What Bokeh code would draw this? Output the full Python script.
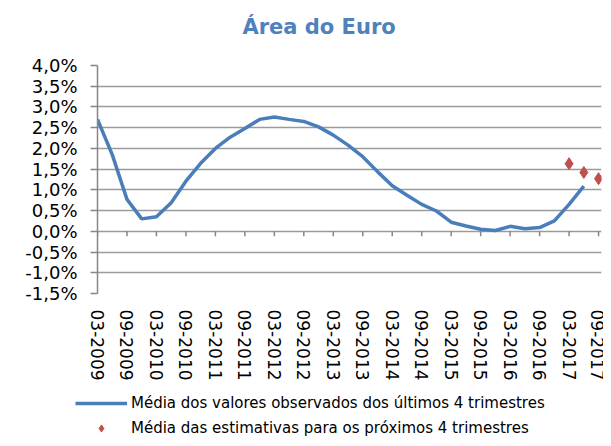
from bokeh.plotting import figure
from bokeh.layouts import column
from bokeh.models import (Range1d, FixedTicker, LinearAxis, Legend, LegendItem, Title)
from bokeh.embed import file_html
from bokeh.resources import INLINE

# ---- data ----
quarters = [f"{m}-{y}" for y in range(2009, 2018) for m in ("03", "06", "09", "12")][:35]
observed = [2.70, 1.85, 0.77, 0.30, 0.35, 0.69, 1.21, 1.64, 2.00, 2.27,
            2.48, 2.70, 2.76, 2.70, 2.65, 2.52, 2.32, 2.08, 1.80, 1.44,
            1.10, 0.87, 0.65, 0.49, 0.22, 0.13, 0.05, 0.02, 0.12, 0.06,
            0.09, 0.25, 0.65, 1.09]
estimate_quarters = ["03-2017", "06-2017", "09-2017"]
estimates = [1.63, 1.42, 1.27]
x_tick_labels = [q for q in quarters if q.startswith(("03", "09"))]
y_ticks = [-1.5, -1.0, -0.5, 0.0, 0.5, 1.0, 1.5, 2.0, 2.5, 3.0, 3.5, 4.0]
y_tick_labels = ["-1,5%", "-1,0%", "-0,5%", "0,0%", "0,5%", "1,0%", "1,5%",
                 "2,0%", "2,5%", "3,0%", "3,5%", "4,0%"]
title_text = "Área do Euro"
legend_labels = ["Média dos valores observados dos últimos 4 trimestres",
                 "Média das estimativas para os próximos 4 trimestres"]

obs_x = list(range(len(observed)))
est_x = [quarters.index(q) for q in estimate_quarters]
x_ticks = [quarters.index(q) for q in x_tick_labels]

FONT = "DejaVu Sans"
GRID = "#9a9a9a"
AXIS = "#868686"
LINE_C = "#4a7ebb"
DIAM_C = "#c0504d"

W, H = 603, 393
BL, BR, BT, BB = 97, 2, 65, 100
Y0, Y1 = y_ticks[0], y_ticks[-1]

p = figure(width=W, height=H, x_range=Range1d(0, 34.2), y_range=Range1d(Y0, Y1),
           output_backend="svg", toolbar_location=None, x_axis_location=None,
           min_border_left=BL, min_border_right=BR, min_border_top=BT, min_border_bottom=BB)
p.frame_align = False
p.outline_line_color = None
p.background_fill_color = "white"
p.border_fill_color = "white"

# title (spacer keeps it near the top)
spacer = Title(text=" ", text_font=FONT, text_font_size="22px", standoff=0)
p.add_layout(spacer, "above")
t = Title(text=title_text, text_font=FONT, text_font_size="21px", text_font_style="bold",
          text_color="#4f81bd", align="left", offset=145, standoff=0)
p.add_layout(t, "above")

# y axis
ya = p.yaxis[0]
ya.ticker = FixedTicker(ticks=y_ticks)
ya.major_label_overrides = dict(zip(y_ticks, y_tick_labels))
ya.axis_line_color = AXIS
ya.axis_line_width = 1.5
ya.major_tick_line_color = AXIS
ya.major_tick_line_width = 1.5
ya.major_tick_out = 7
ya.major_tick_in = 0
ya.minor_tick_line_color = None
ya.major_label_standoff = 13
ya.major_label_text_font = FONT
ya.major_label_text_font_size = "18px"
ya.major_label_text_color = "#000000"

p.xgrid.visible = False
p.ygrid.grid_line_color = GRID
p.ygrid.grid_line_width = 1.5

# x labels axis at bottom
xlab = LinearAxis(ticker=FixedTicker(ticks=x_ticks),
                  major_label_overrides=dict(zip(x_ticks, x_tick_labels)),
                  major_label_orientation="vertical",
                  axis_line_color=None, major_tick_line_color=None,
                  minor_tick_line_color=None, major_label_standoff=10,
                  major_label_text_font=FONT, major_label_text_font_size="17px",
                  major_label_text_color="#000000")
p.add_layout(xlab, "below")

# tick marks hanging below the zero line (5 px long)
frame_h = H - BT - BB
tick_len = 5 * (Y1 - Y0) / frame_h
p.segment(x0=x_ticks, y0=[0] * len(x_ticks), x1=x_ticks, y1=[-tick_len] * len(x_ticks),
          line_color=AXIS, line_width=1.5)

p.line(obs_x, observed, line_color=LINE_C, line_width=3.5)
p.scatter(est_x, estimates, marker="diamond", size=12, fill_color=DIAM_C, line_color=DIAM_C)

# ---- legend strip below the chart (its own ranges keep the series out of view) ----
q = figure(width=W, height=45, x_range=Range1d(1000, 1001), y_range=Range1d(1000, 1001),
           output_backend="svg", toolbar_location=None,
           x_axis_location=None, y_axis_location=None,
           min_border_left=0, min_border_right=0, min_border_top=0, min_border_bottom=0)
q.frame_align = False
q.outline_line_color = None
q.xgrid.visible = False
q.ygrid.visible = False
q.border_fill_color = "white"
lr = q.line(obs_x, observed, line_color=LINE_C, line_width=3.5)
sr = q.scatter(est_x, estimates, marker="diamond", size=9, fill_color=DIAM_C, line_color=DIAM_C)
legend = Legend(items=[LegendItem(label=legend_labels[0], renderers=[lr]),
                       LegendItem(label=legend_labels[1], renderers=[sr])],
                location=(75, 1), glyph_width=52, glyph_height=18, label_height=18,
                spacing=7, padding=0, margin=0, border_line_color=None,
                background_fill_alpha=0, label_text_font=FONT, label_text_font_size="15px",
                label_standoff=4, label_text_color="#000000")
q.add_layout(legend, "center")

layout = column(p, q, spacing=0)
open("out.html", "w").write(file_html(layout, INLINE))
